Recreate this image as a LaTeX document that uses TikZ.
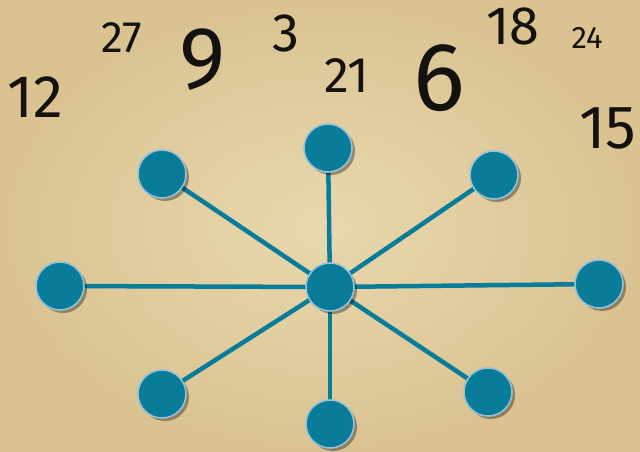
\documentclass[tikz,border=0pt]{standalone}
\usepackage{fontspec}
\setmainfont{Fira Sans}
\usetikzlibrary{shadows}
\definecolor{teal1}{RGB}{8,124,152}
\definecolor{rim}{RGB}{150,192,214}
\definecolor{paperin}{RGB}{233,216,174}
\definecolor{paperout}{RGB}{218,195,145}
\definecolor{ink}{RGB}{20,18,14}
\tikzset{
  dot/.style={circle,fill=teal1,draw=rim,line width=1.6pt,minimum size=48pt,inner sep=0pt,
    drop shadow={shadow xshift=3pt,shadow yshift=-3pt,opacity=0.35,fill=black}},
  spoke/.style={draw=teal1,line width=4.5pt},
  num/.style={inner sep=0pt,text=ink,font=\fontsize{#1}{#1}\selectfont}
}
\begin{document}
\begin{tikzpicture}[x=1pt,y=-1pt]
\shade[inner color=paperin,outer color=paperout] (0,0) rectangle (640,452);
\useasboundingbox (0,0) rectangle (640,452);
% numbers
\node[num=60] (n12) at (35,97) {12};
\node[num=44] (n27) at (122,38) {27};
\node[num=88] (n9) at (203,60) {9};
\node[num=54] (n3) at (286,33) {3};
\node[num=50] (n21) at (347,76) {21};
\node[num=97] (n6) at (439,78) {6};
\node[num=54] (n18) at (513,26) {18};
\node[num=31] (n24) at (587,38) {24};
\node[num=61] (n15) at (608,128) {15};
% coordinates of nodes
\coordinate (pc) at (330,287);
\coordinate (pt) at (328,148);
\coordinate (pul) at (162,174);
\coordinate (pur) at (494,175);
\coordinate (pl) at (60,286);
\coordinate (pr) at (599,284);
\coordinate (pll) at (162,394);
\coordinate (plr) at (488,392);
\coordinate (pb) at (330,424);
% spokes
\foreach \p in {pt,pul,pur,pl,pr,pll,plr,pb}
  \path[spoke] (pc) -- (\p);
% nodes
\node[dot] (t) at (pt) {};
\node[dot] (ul) at (pul) {};
\node[dot] (ur) at (pur) {};
\node[dot] (l) at (pl) {};
\node[dot] (r) at (pr) {};
\node[dot] (ll) at (pll) {};
\node[dot] (lr) at (plr) {};
\node[dot] (b) at (pb) {};
\node[dot] (c) at (pc) {};
\end{tikzpicture}
\end{document}
